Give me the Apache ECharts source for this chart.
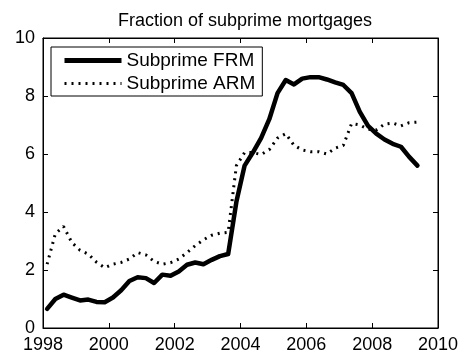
<!DOCTYPE html>
<html>
<head>
<meta charset="utf-8">
<title>Fraction of subprime mortgages</title>
<script src="https://cdn.jsdelivr.net/npm/echarts@6/dist/echarts.min.js"></script>
<style>
  html, body { margin: 0; padding: 0; background: #fff; }
  #chart { width: 463px; height: 358px; }
</style>
</head>
<body>
<div id="chart"></div>
<script>
// Quarterly observations, 1998Q1 through 2009Q2
const quarters = [
  '1998Q1','1998Q2','1998Q3','1998Q4','1999Q1','1999Q2','1999Q3','1999Q4',
  '2000Q1','2000Q2','2000Q3','2000Q4','2001Q1','2001Q2','2001Q3','2001Q4',
  '2002Q1','2002Q2','2002Q3','2002Q4','2003Q1','2003Q2','2003Q3','2003Q4',
  '2004Q1','2004Q2','2004Q3','2004Q4','2005Q1','2005Q2','2005Q3','2005Q4',
  '2006Q1','2006Q2','2006Q3','2006Q4','2007Q1','2007Q2','2007Q3','2007Q4',
  '2008Q1','2008Q2','2008Q3','2008Q4','2009Q1','2009Q2'
];

// Subprime share of fixed-rate mortgages (%)
const subprimeFRM = [
  0.66, 1.00, 1.15, 1.05, 0.95, 0.98, 0.90, 0.89,
  1.05, 1.30, 1.62, 1.75, 1.72, 1.55, 1.84, 1.80,
  1.95, 2.18, 2.26, 2.20, 2.35, 2.48, 2.55, 4.35,
  5.60, 6.05, 6.55, 7.20, 8.10, 8.55, 8.40, 8.60,
  8.65, 8.65, 8.57, 8.47, 8.38, 8.10, 7.45, 6.97,
  6.70, 6.50, 6.35, 6.25, 5.90, 5.60
];

// Subprime share of adjustable-rate mortgages (%)
const subprimeARM = [
  2.20, 3.25, 3.50, 2.95, 2.68, 2.55, 2.27, 2.08,
  2.20, 2.26, 2.38, 2.60, 2.52, 2.30, 2.20, 2.25,
  2.38, 2.60, 2.84, 3.04, 3.20, 3.27, 3.30, 5.60,
  6.05, 6.05, 5.98, 6.15, 6.55, 6.70, 6.30, 6.14,
  6.08, 6.08, 6.00, 6.20, 6.30, 7.05, 7.00, 6.85,
  6.83, 7.03, 7.07, 6.97, 7.08, 7.10
];

const xTicks = [1998, 2000, 2002, 2004, 2006, 2008, 2010];
const yTicks = [0, 2, 4, 6, 8, 10];

// Place each quarter at its midpoint on a decimal-year axis
function quarterPos(label) {
  const y = parseInt(label.slice(0, 4), 10);
  const q = parseInt(label.slice(5), 10);
  return y + (q - 0.5) / 4;
}
const pairs = vals => quarters.map((q, i) => [quarterPos(q), vals[i]]);

const FONT = 'Liberation Sans, Arial, sans-serif';
const FRM_LINE = { color: '#000', width: 4.5, join: 'round', cap: 'round' };
const ARM_LINE = { color: '#000', width: 3, type: [2, 5] };

const axisCommon = {
  axisLine: { show: true, onZero: false, lineStyle: { color: '#000', width: 1 } },
  axisTick: { show: true, inside: true, length: 5, lineStyle: { color: '#000' } },
  splitLine: { show: false }
};

function xAxis(pos, labels) {
  return Object.assign({}, axisCommon, {
    type: 'value', position: pos,
    min: xTicks[0], max: xTicks[xTicks.length - 1], interval: 2,
    axisLabel: {
      show: labels, color: '#000', fontFamily: FONT, fontSize: 18, margin: 8,
      formatter: v => String(v)
    }
  });
}
function yAxis(pos, labels) {
  return Object.assign({}, axisCommon, {
    type: 'value', position: pos,
    min: yTicks[0], max: yTicks[yTicks.length - 1], interval: 2,
    axisLabel: {
      show: labels, color: '#000', fontFamily: FONT, fontSize: 18, margin: 8,
      formatter: v => String(v)
    }
  });
}

const chart = echarts.init(document.getElementById('chart'), null, { renderer: 'canvas' });
chart.setOption({
  animation: false,
  backgroundColor: '#fff',
  title: {
    text: 'Fraction of subprime mortgages',
    left: 240, top: 7, textAlign: 'center',
    textStyle: { color: '#000', fontFamily: FONT, fontSize: 18, fontWeight: 'normal' }
  },
  grid: { left: 43, right: 25, top: 38, bottom: 30, show: true, borderColor: '#000', borderWidth: 1 },
  legend: {
    orient: 'vertical', left: 51, top: 47,
    padding: [4, 7, 3, 11], itemGap: 4,
    itemWidth: 57, itemHeight: 20,
    borderColor: '#000', borderWidth: 1, backgroundColor: '#fff',
    itemStyle: { opacity: 0 },
    textStyle: { color: '#000', fontFamily: FONT, fontSize: 19 },
    data: [
      { name: 'Subprime FRM', lineStyle: Object.assign({}, FRM_LINE, { width: 5, cap: 'butt' }) },
      { name: 'Subprime ARM', lineStyle: Object.assign({}, ARM_LINE, { cap: 'butt' }) }
    ]
  },
  xAxis: [xAxis('bottom', true), xAxis('top', false)],
  yAxis: [yAxis('left', true), yAxis('right', false)],
  series: [
    {
      name: 'Subprime FRM', type: 'line', data: pairs(subprimeFRM),
      showSymbol: false, symbol: 'none',
      lineStyle: FRM_LINE,
      itemStyle: { color: '#000' }
    },
    {
      name: 'Subprime ARM', type: 'line', data: pairs(subprimeARM),
      showSymbol: false, symbol: 'none',
      lineStyle: ARM_LINE,
      itemStyle: { color: '#000' }
    }
  ]
});
</script>
</body>
</html>
